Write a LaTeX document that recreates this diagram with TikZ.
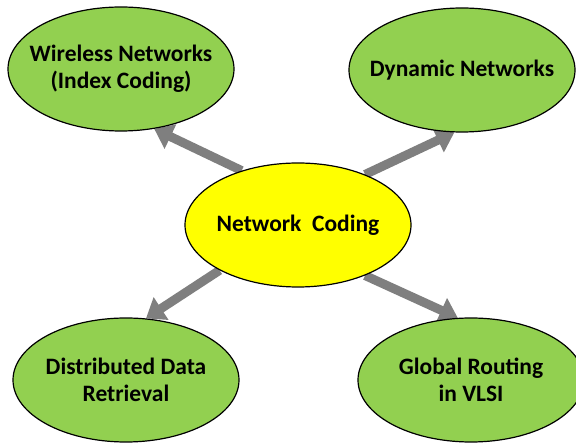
\documentclass[tikz,border=0pt]{standalone}
\usepackage{fontspec}
\setmainfont{Carlito}
\usetikzlibrary{arrows.meta,backgrounds,shapes.geometric}

\definecolor{leafgreen}{HTML}{92D050}
\definecolor{hubyellow}{HTML}{FFFF00}
\definecolor{arrowgray}{HTML}{7F7F7F}

\tikzset{
    topic/.style={ellipse, draw=black, line width=1.2pt, fill=leafgreen,
        minimum width=226pt, minimum height=124pt,
        inner xsep=-40pt, inner ysep=0pt,
        align=center, font=\bfseries\fontsize{23.5}{27}\selectfont},
    hub/.style={topic, fill=hubyellow},
    fatarrow/.style={draw=arrowgray, line width=9pt,
        -{Triangle[width=26pt, length=18pt]}}
}

\begin{document}
\begin{tikzpicture}[x=1pt, y=-1pt]
    \useasboundingbox (0,0) rectangle (576,443);

    \node[hub] (nc) at (298,225) {Network\ \ Coding};

    \node[topic] (wn) at (121,69) {Wireless Networks\\(Index Coding)};
    \node[topic] (dn) at (462,70) {Dynamic Networks};
    \node[topic] (dd) at (126,380) {Distributed Data\\Retrieval};
    \node[topic] (gr) at (471,380) {Global Routing\\in VLSI};

    % arrows go under the hub
    \begin{scope}[on background layer]
        \draw[fatarrow] (nc.136) -- (wn.-61);
        \draw[fatarrow] (nc.37) -- (dn.-97);
        \draw[fatarrow] (nc.-150) -- (dd.72);
        \draw[fatarrow] (nc.-37) -- (gr.102);
    \end{scope}
\end{tikzpicture}
\end{document}
